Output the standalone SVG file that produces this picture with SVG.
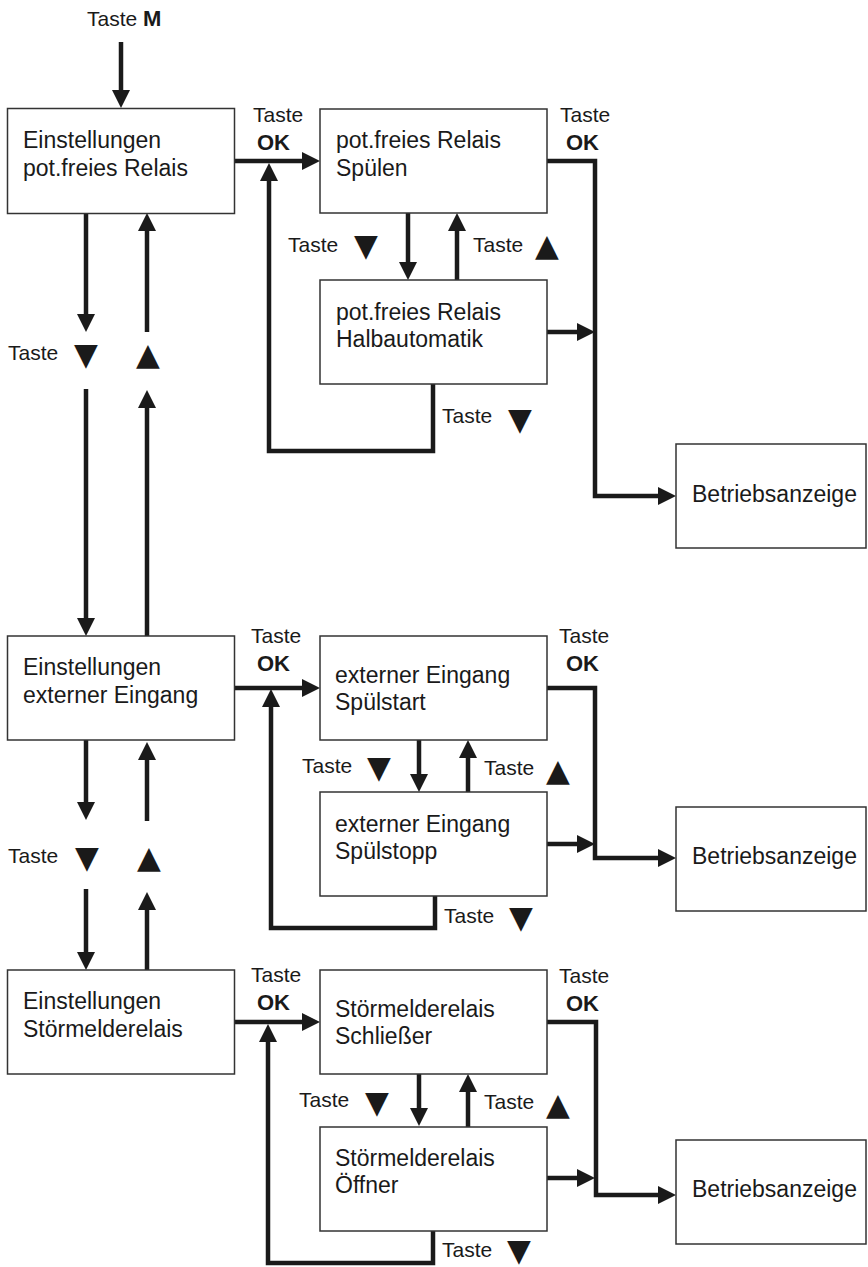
<svg xmlns="http://www.w3.org/2000/svg" width="868" height="1267" viewBox="0 0 868 1267">
<style>
.box{fill:#fff;stroke:#333;stroke-width:1.5}
.t{font-family:"Liberation Sans",Arial,sans-serif;font-size:23px;fill:#1a1a1a}
.l{font-family:"Liberation Sans",Arial,sans-serif;font-size:21px;fill:#1a1a1a}
.b{font-weight:bold;font-size:22px}
.tri{font-family:"DejaVu Sans",sans-serif;font-size:31px}
.c{fill:none;stroke:#1a1a1a;stroke-width:4.5;stroke-linejoin:miter}
</style>
<defs>
<marker id="ah" markerUnits="userSpaceOnUse" markerWidth="18" markerHeight="18" refX="8" refY="9" orient="auto">
<path d="M0,0 L18,9 L0,18 z" fill="#1a1a1a"/>
</marker>
</defs>
<rect width="868" height="1267" fill="#fff"/>

<g id="connectors">
<path class="c" d="M121,42 V98" marker-end="url(#ah)"/>
<path class="c" d="M235,161 H310" marker-end="url(#ah)"/>
<path class="c" d="M433,384 V451 H269 V173" marker-end="url(#ah)"/>
<path class="c" d="M547,161 H595 V496 H666" marker-end="url(#ah)"/>
<path class="c" d="M547,332 H585" marker-end="url(#ah)"/>
<path class="c" d="M408,213 V270" marker-end="url(#ah)"/>
<path class="c" d="M457,280 V223" marker-end="url(#ah)"/>
<path class="c" d="M86,213 V322" marker-end="url(#ah)"/>
<path class="c" d="M147,332 V223" marker-end="url(#ah)"/>
<path class="c" d="M86,389 V626" marker-end="url(#ah)"/>
<path class="c" d="M147,636 V400" marker-end="url(#ah)"/>

<path class="c" d="M235,688 H310" marker-end="url(#ah)"/>
<path class="c" d="M435,896 V928 H271 V699" marker-end="url(#ah)"/>
<path class="c" d="M547,688 H595 V858 H666" marker-end="url(#ah)"/>
<path class="c" d="M547,844 H585" marker-end="url(#ah)"/>
<path class="c" d="M419,740 V782" marker-end="url(#ah)"/>
<path class="c" d="M468,792 V750" marker-end="url(#ah)"/>
<path class="c" d="M86,740 V810" marker-end="url(#ah)"/>
<path class="c" d="M147,821 V752" marker-end="url(#ah)"/>
<path class="c" d="M86,889 V960" marker-end="url(#ah)"/>
<path class="c" d="M147,970 V902" marker-end="url(#ah)"/>

<path class="c" d="M235,1022 H310" marker-end="url(#ah)"/>
<path class="c" d="M433,1231 V1263 H268 V1034" marker-end="url(#ah)"/>
<path class="c" d="M547,1022 H596 V1195 H666" marker-end="url(#ah)"/>
<path class="c" d="M547,1178 H585" marker-end="url(#ah)"/>
<path class="c" d="M419,1074 V1116" marker-end="url(#ah)"/>
<path class="c" d="M468,1127 V1084" marker-end="url(#ah)"/>
</g>

<g id="labels">
<text class="l" x="87" y="26">Taste <tspan class="b" font-size="21">M</tspan></text>
<text class="l" x="253" y="122">Taste</text><text class="l b" x="257" y="150">OK</text>
<text class="l" x="560" y="122">Taste</text><text class="l b" x="566" y="150">OK</text>
<text class="l" x="288" y="252">Taste <tspan class="tri" x="354" y="256">▼</tspan></text>
<text class="l" x="473" y="252">Taste <tspan class="tri" x="535" y="256">▲</tspan></text>
<text class="l" x="442" y="423">Taste <tspan class="tri" x="508" y="430">▼</tspan></text>
<text class="l" x="8" y="360">Taste <tspan class="tri" x="74" y="365">▼</tspan></text>
<text class="l tri" x="136" y="365">▲</text>

<text class="l" x="251" y="643">Taste</text><text class="l b" x="257" y="671">OK</text>
<text class="l" x="559" y="643">Taste</text><text class="l b" x="566" y="671">OK</text>
<text class="l" x="302" y="773">Taste <tspan class="tri" x="367" y="778">▼</tspan></text>
<text class="l" x="484" y="775">Taste <tspan class="tri" x="546" y="781">▲</tspan></text>
<text class="l" x="444" y="923">Taste <tspan class="tri" x="509" y="928">▼</tspan></text>
<text class="l" x="8" y="863">Taste <tspan class="tri" x="75" y="868">▼</tspan></text>
<text class="l tri" x="137" y="868">▲</text>

<text class="l" x="251" y="982">Taste</text><text class="l b" x="257" y="1010">OK</text>
<text class="l" x="559" y="983">Taste</text><text class="l b" x="566" y="1011">OK</text>
<text class="l" x="299" y="1107">Taste <tspan class="tri" x="365" y="1113">▼</tspan></text>
<text class="l" x="484" y="1109">Taste <tspan class="tri" x="546" y="1115">▲</tspan></text>
<text class="l" x="442" y="1257">Taste <tspan class="tri" x="507" y="1261">▼</tspan></text>
</g>

<g id="n-einst-relais"><rect class="box" x="7.5" y="108.5" width="227" height="105"/><text class="t" x="23" y="148">Einstellungen</text><text class="t" x="23" y="176">pot.freies Relais</text></g>
<g id="n-relais-spuelen"><rect class="box" x="320" y="109" width="227" height="104"/><text class="t" x="336" y="148">pot.freies Relais</text><text class="t" x="336" y="176">Spülen</text></g>
<g id="n-relais-halb"><rect class="box" x="320" y="280" width="227" height="104"/><text class="t" x="336" y="320">pot.freies Relais</text><text class="t" x="336" y="347">Halbautomatik</text></g>
<g id="n-betrieb-1"><rect class="box" x="676" y="444" width="190" height="104"/><text class="t" x="692" y="502">Betriebsanzeige</text></g>

<g id="n-einst-eingang"><rect class="box" x="7.5" y="636" width="227" height="104"/><text class="t" x="23" y="675">Einstellungen</text><text class="t" x="23" y="703">externer Eingang</text></g>
<g id="n-eingang-start"><rect class="box" x="320" y="636" width="227" height="104"/><text class="t" x="335" y="683">externer Eingang</text><text class="t" x="335" y="710">Spülstart</text></g>
<g id="n-eingang-stopp"><rect class="box" x="320" y="792" width="227" height="104"/><text class="t" x="335" y="832">externer Eingang</text><text class="t" x="335" y="859">Spülstopp</text></g>
<g id="n-betrieb-2"><rect class="box" x="676" y="807" width="190" height="104"/><text class="t" x="692" y="864">Betriebsanzeige</text></g>

<g id="n-einst-stoer"><rect class="box" x="7.5" y="970" width="227" height="104"/><text class="t" x="23" y="1009">Einstellungen</text><text class="t" x="23" y="1037">Störmelderelais</text></g>
<g id="n-stoer-schliesser"><rect class="box" x="320" y="970" width="227" height="104"/><text class="t" x="335" y="1017">Störmelderelais</text><text class="t" x="335" y="1044">Schließer</text></g>
<g id="n-stoer-oeffner"><rect class="box" x="320" y="1127" width="227" height="104"/><text class="t" x="335" y="1166">Störmelderelais</text><text class="t" x="335" y="1193">Öffner</text></g>
<g id="n-betrieb-3"><rect class="box" x="676" y="1140" width="190" height="104"/><text class="t" x="692" y="1197">Betriebsanzeige</text></g>
</svg>
